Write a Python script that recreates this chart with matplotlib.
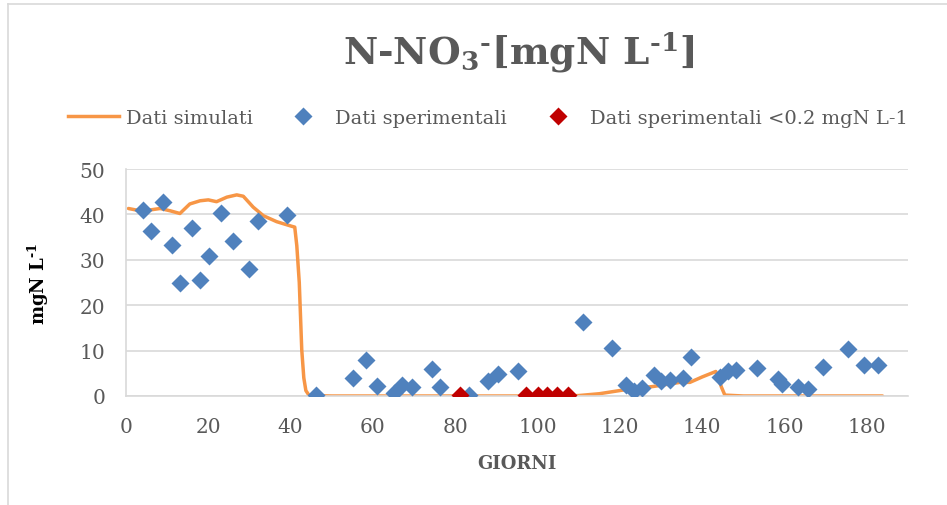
import matplotlib.pyplot as plt
from matplotlib.lines import Line2D

plt.rcParams["font.family"] = ["DejaVu Serif"]
plt.rcParams["mathtext.fontset"] = "custom"
plt.rcParams["mathtext.rm"] = "DejaVu Serif:bold"
plt.rcParams["mathtext.it"] = "DejaVu Serif:bold"
plt.rcParams["mathtext.bf"] = "DejaVu Serif:bold"

GREY = "#595959"
ORANGE = "#F79646"
BLUE = "#4F81BD"
RED = "#C00000"

# simulated curve
sim_x = [0.6, 3.4, 6.0, 8.3, 10.7, 13.1, 15.5, 18.0, 20.0, 22.0, 24.5, 26.9,
         28.5, 30.9, 33.4, 36.6, 40.2, 41.0, 41.5, 42.1, 42.7, 43.2, 43.7,
         44.5, 50, 60, 80, 100, 107, 110, 115, 121.4, 128.1, 134.6, 137.0,
         140.0, 143.3, 144.7, 145.5, 150, 160, 170, 183.8]
sim_y = [41.3, 40.8, 41.0, 41.3, 40.8, 40.2, 42.3, 43.0, 43.2, 42.8, 43.8, 44.3,
         44.0, 41.6, 39.7, 38.4, 37.4, 37.2, 33.1, 25.0, 10.2, 4.0, 1.2,
         0.1, 0, 0, 0, 0, 0, 0.1, 0.5, 1.4, 2.1, 3.0, 3.0,
         4.2, 5.4, 1.9, 0.2, 0, 0, 0, 0]

# experimental data
exp_x = [4.2, 6.1, 9.1, 11.2, 13.1, 16.1, 18.1, 20.1, 23.1, 26.0, 30.0, 32.1,
         39.0, 46.1, 55.1, 58.2, 61.1, 65.2, 67.0, 69.4, 74.3, 76.3, 83.4,
         88.0, 90.4, 95.3, 111.1, 118.1, 121.4, 123.4, 125.3, 128.2, 130.1,
         132.1, 135.4, 137.2, 144.3, 146.3, 148.3, 153.2, 158.4, 159.5,
         163.3, 165.6, 169.4, 175.4, 179.3, 182.6]
exp_y = [41.0, 36.4, 42.8, 33.3, 25.0, 36.9, 25.6, 30.9, 40.2, 34.2, 28.0, 38.6,
         39.8, 0.2, 4.0, 7.9, 2.1, 0.7, 2.4, 2.0, 5.9, 2.0, 0.3,
         3.4, 4.8, 5.6, 16.3, 10.6, 2.4, 1.2, 1.7, 4.6, 3.2,
         3.6, 3.9, 8.7, 4.1, 5.6, 5.8, 6.2, 3.7, 2.6,
         2.0, 1.5, 6.3, 10.4, 6.9, 6.9]

# experimental data below detection (<0.2 mgN L-1)
low_x = [81.1, 97.3, 100.1, 102.3, 104.6, 107.3]
low_y = [0.2, 0.2, 0.2, 0.2, 0.2, 0.2]

fig = plt.figure(figsize=(9.47, 5.06), dpi=100)
ax = fig.add_axes([126 / 947, 1 - 397 / 506, (908 - 126) / 947, (397 - 170) / 506])

ax.plot(sim_x, sim_y, color=ORANGE, lw=2.5, zorder=2, solid_capstyle="round")
ax.plot(exp_x, exp_y, "D", color=BLUE, ms=9, mec="none", zorder=3)
ax.plot(low_x, low_y, "D", color=RED, ms=9, mec="none", zorder=4)

ax.set_xlim(0, 190)
ax.set_ylim(0, 50)
ax.set_xticks(range(0, 181, 20))
ax.set_yticks(range(0, 51, 10))
ax.grid(axis="y", color="#d9d9d9", lw=1.2)
ax.set_axisbelow(True)
for s in ["top", "right"]:
    ax.spines[s].set_visible(False)
for s in ["left", "bottom"]:
    ax.spines[s].set_color("#d9d9d9")
    ax.spines[s].set_linewidth(1.2)
ax.tick_params(length=0, labelsize=14.5, labelcolor=GREY)
ax.tick_params(axis="x", pad=15)
ax.tick_params(axis="y", pad=15)

ax.set_xlabel("GIORNI", fontsize=13, fontweight="bold", color=GREY)
ax.set_ylabel("mgN L$^{\\text{-}1}$", fontsize=13, fontweight="bold", color="black")
ax.xaxis.set_label_coords(0.5, (397 - 455) / 227)
ax.yaxis.set_label_coords((51 - 126) / 782, 0.5)

fig.text(519 / 947, 1 - 53 / 506, "N-NO$_3$$^{\\text{-}}$[mgN L$^{\\text{-}1}$]",
         ha="center", va="center", fontsize=27, fontweight="bold", color=GREY)

handles = [
    Line2D([], [], color=ORANGE, lw=2.5),
    Line2D([], [], ls="none", marker="D", color=BLUE, ms=9, mec="none"),
    Line2D([], [], ls="none", marker="D", color=RED, ms=9, mec="none"),
]
labels = ["Dati simulati", "Dati sperimentali", "Dati sperimentali <0.2 mgN L-1"]
leg = fig.legend(handles, labels, loc="center", bbox_to_anchor=(488 / 947, 1 - 119 / 506),
                 ncol=3, frameon=False, fontsize=14, handlelength=2.6,
                 handletextpad=0.35, columnspacing=1.3)
for t in leg.get_texts():
    t.set_color(GREY)

# chart border (top and left visible)
fig.add_artist(Line2D([8 / 947, 8 / 947], [0, 1 - 5 / 506], color="#d9d9d9", lw=1.2,
                      transform=fig.transFigure))
fig.add_artist(Line2D([8 / 947, 1], [1 - 5 / 506, 1 - 5 / 506], color="#d9d9d9", lw=1.2,
                      transform=fig.transFigure))

fig.savefig("out.png", dpi=100)
